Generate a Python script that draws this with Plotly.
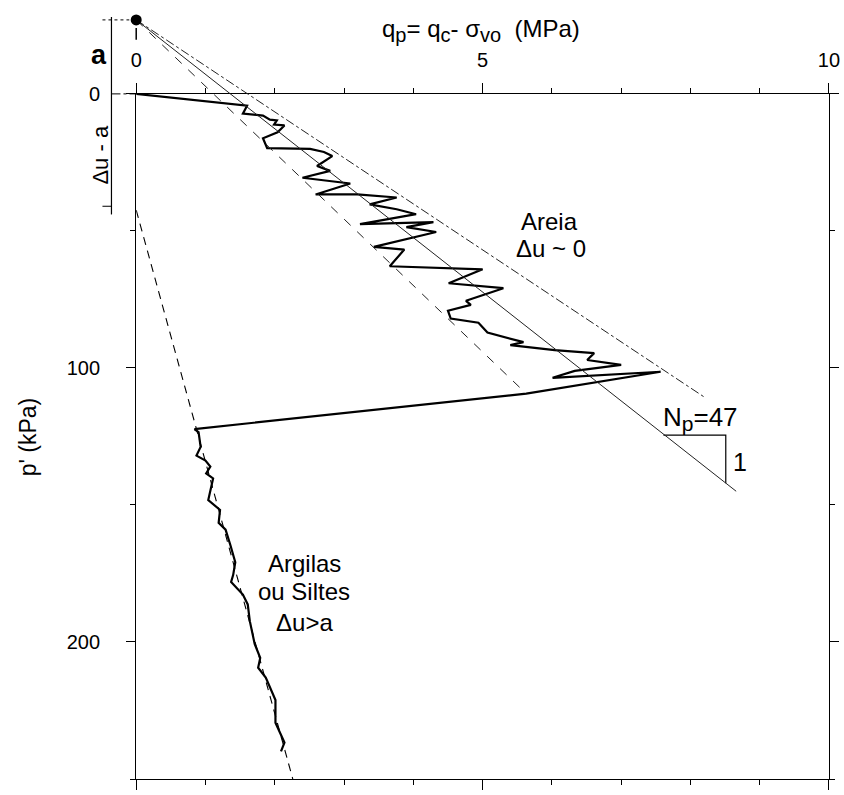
import plotly.graph_objects as go

# ---- measured profile: q_p = q_c - sigma_vo (MPa) against p' (kPa) ----
# sand stretch (zig-zag), ending with the jump into the clay layer
sand_qp = [0.00, 1.60, 1.54, 1.83, 1.93, 2.03, 1.99, 2.14, 2.04, 1.83, 1.89, 2.33, 2.51,
           2.71, 2.83, 2.61, 2.80, 2.40, 3.09, 2.59, 3.19, 3.76, 3.37, 3.76, 4.04, 3.23,
           4.29, 3.90, 4.33, 3.43, 3.87, 3.66, 5.00, 4.51, 5.30, 4.76, 4.83, 4.50, 4.54,
           4.94, 5.07, 5.59, 5.40, 6.04, 6.61, 6.51, 7.00, 6.33, 6.01, 7.57, 5.63, 0.84]
sand_p = [0.0, 4.3, 7.2, 7.9, 9.4, 9.7, 11.2, 11.5, 14.0, 16.2, 19.8, 20.1, 20.1,
          21.2, 22.7, 26.3, 28.1, 30.6, 32.7, 36.7, 36.7, 37.8, 40.3, 42.1, 43.9, 47.5,
          46.8, 48.6, 50.4, 55.8, 56.8, 62.9, 64.0, 69.1, 70.9, 75.5, 77.0, 79.1, 82.0,
          83.5, 87.1, 90.6, 91.7, 93.5, 94.6, 97.1, 98.9, 101.1, 103.6, 101.4, 109.4, 122.3]

# clay / silt stretch
clay_qp = [0.84, 0.90, 0.93, 0.87, 1.00, 1.07, 1.01, 1.11, 1.04, 1.21, 1.19, 1.29, 1.36,
           1.43, 1.40, 1.37, 1.54, 1.61, 1.64, 1.71, 1.79, 1.76, 1.87, 2.01, 2.01, 2.14, 2.09]
clay_p = [122.3, 123.4, 128.8, 132.0, 133.8, 136.0, 138.5, 140.3, 148.2, 151.8, 156.5, 159.0, 164.7,
          170.9, 175.5, 178.1, 182.7, 186.3, 192.4, 200.7, 205.8, 209.4, 213.0, 221.2, 229.5, 236.7, 239.9]

# pole "a" above p' = 0 from which the sand envelopes start
pole_qp, pole_p = 0.0, -27.0

# sand envelopes from the pole: upper bound, N_p line, lower bound
env_end_qp = [8.21, 8.66, 5.63]
env_end_p = [110.8, 145.0, 109.4]
env_dash = ["dashdot", "solid", "dash"]

# clay trend line
clay_trend_qp = [0.0, 2.26]
clay_trend_p = [42.4, 250.0]

# slope triangle on the N_p line
tri_qp = [7.61, 8.51, 8.51]
tri_p = [124.5, 124.5, 142.1]

# axis ticks
x_major = [0, 5, 10]
y_major = [0, 100, 200]

# ---- page geometry (pixels) ----
W, H = 844, 795
L, R, T, B = 60, 837, 17, 790          # outer drawing area
BOX_L, BOX_T = 137, 95                 # frame of the q_p / p' axes
X_MAX, Y_MAX = 10.0, 250.0

px_per_q = (R - BOX_L) / X_MAX
px_per_p = (B - BOX_T) / Y_MAX
x2_min = -(BOX_L - L) / px_per_q
y2_min = -(BOX_T - T) / px_per_p


def P(px, py):
    """pixel position -> paper coordinates"""
    return (px - L) / (R - L), (B - py) / (B - T)


def sub(s, size):
    return f"<sub><span style='font-size:{size}px'>{s}</span></sub>"


fig = go.Figure()

ink = "black"

# profile
fig.add_trace(go.Scatter(x=sand_qp, y=sand_p, mode="lines",
                         line=dict(color=ink, width=2.2), xaxis="x", yaxis="y"))
fig.add_trace(go.Scatter(x=clay_qp, y=clay_p, mode="lines",
                         line=dict(color=ink, width=2.2), xaxis="x", yaxis="y"))
# clay trend
fig.add_trace(go.Scatter(x=clay_trend_qp, y=clay_trend_p, mode="lines",
                         line=dict(color=ink, width=1.1, dash="8px,6px"), xaxis="x", yaxis="y"))
# slope triangle
fig.add_trace(go.Scatter(x=tri_qp, y=tri_p, mode="lines",
                         line=dict(color=ink, width=1.2), xaxis="x", yaxis="y"))

# envelopes from the pole (extend above the frame, so on the overlay axes)
for qe, pe, d in zip(env_end_qp, env_end_p, env_dash):
    fig.add_trace(go.Scatter(x=[pole_qp, qe], y=[pole_p, pe], mode="lines",
                             line=dict(color="#222", width=1.0, dash=d),
                             xaxis="x2", yaxis="y2"))

# delta-u - a scale on the left
du_q = x2_min + (112 - L) / px_per_q
fig.add_trace(go.Scatter(x=[du_q, du_q], y=[-30.0, 44.0], mode="lines",
                         line=dict(color=ink, width=1.2), xaxis="x2", yaxis="y2"))
fig.add_trace(go.Scatter(x=[du_q - 0.13, du_q], y=[41.0, 41.0], mode="lines",
                         line=dict(color=ink, width=1.0), xaxis="x2", yaxis="y2"))
fig.add_trace(go.Scatter(x=[du_q - 0.13, pole_qp - 0.1], y=[pole_p, pole_p], mode="lines",
                         line=dict(color=ink, width=1.0, dash="dot"), xaxis="x2", yaxis="y2"))
fig.add_trace(go.Scatter(x=[du_q, 0.0], y=[0.0, 0.0], mode="lines",
                         line=dict(color=ink, width=1.0, dash="dashdot"), xaxis="x2", yaxis="y2"))
# pole marker with its stem
fig.add_trace(go.Scatter(x=[pole_qp, pole_qp], y=[pole_p + 3, pole_p + 7.2], mode="lines",
                         line=dict(color=ink, width=1.5), xaxis="x2", yaxis="y2"))
fig.add_trace(go.Scatter(x=[pole_qp], y=[pole_p], mode="markers", cliponaxis=False,
                         marker=dict(color=ink, size=11), xaxis="x2", yaxis="y2"))

axis_common = dict(showgrid=False, zeroline=False, showline=True, linecolor=ink,
                   linewidth=1.3, mirror="ticks", ticks="outside", tickcolor=ink,
                   tickwidth=1.2, tickfont=dict(size=20, color=ink))

fig.update_layout(
    width=W, height=H,
    margin=dict(l=L, r=W - R, t=T, b=H - B, pad=0),
    paper_bgcolor="white", plot_bgcolor="rgba(0,0,0,0)",
    showlegend=False,
    font=dict(family="Liberation Sans, Arial, sans-serif", color=ink, size=20),
    xaxis=dict(domain=[(BOX_L - L) / (R - L), 1], range=[0, X_MAX], side="top", anchor="y",
               tickvals=x_major, ticklen=10, ticklabelstandoff=8,
               minor=dict(dtick=1, ticklen=5, ticks="outside", tickcolor=ink),
               **axis_common),
    yaxis=dict(domain=[0, (B - BOX_T) / (B - T)], range=[Y_MAX, 0], anchor="x",
               tickvals=y_major, ticklen=9, ticklabelstandoff=22,
               minor=dict(dtick=50, ticklen=5, ticks="outside", tickcolor=ink),
               **axis_common),
    xaxis2=dict(domain=[0, 1], range=[x2_min, X_MAX], anchor="y2", visible=False),
    yaxis2=dict(domain=[0, 1], range=[Y_MAX, y2_min], anchor="x2", visible=False),
)

ann = []


def text(px, py, s, size=24, angle=0, xanchor="center"):
    x, y = P(px, py)
    ann.append(dict(x=x, y=y, xref="paper", yref="paper", text=s, showarrow=False,
                    textangle=angle, xanchor=xanchor, yanchor="middle",
                    font=dict(size=size, color=ink)))


text(485, 31, "q" + sub("p", 20) + "= q" + sub("c", 20) + "- σ" + sub("vo", 20)
     + "\u00a0\u00a0(MPa)", size=24)
text(28, 443, "p' (kPa)", size=23, angle=-90)
text(99, 56, "<b>a</b>", size=27)
text(100, 157, "Δu - a", size=22, angle=-90)
text(555, 224, "Areia")
text(556, 252, "Δu ~ 0")
text(667, 424, "N" + sub("p", 21) + "=47", size=26, xanchor="left")
text(747, 468, "1", size=25)
text(307, 571, "Argilas")
text(307, 600, "ou Siltes")
text(307, 631, "Δu>a")

fig.update_layout(annotations=ann)

fig.write_html("out.html")
